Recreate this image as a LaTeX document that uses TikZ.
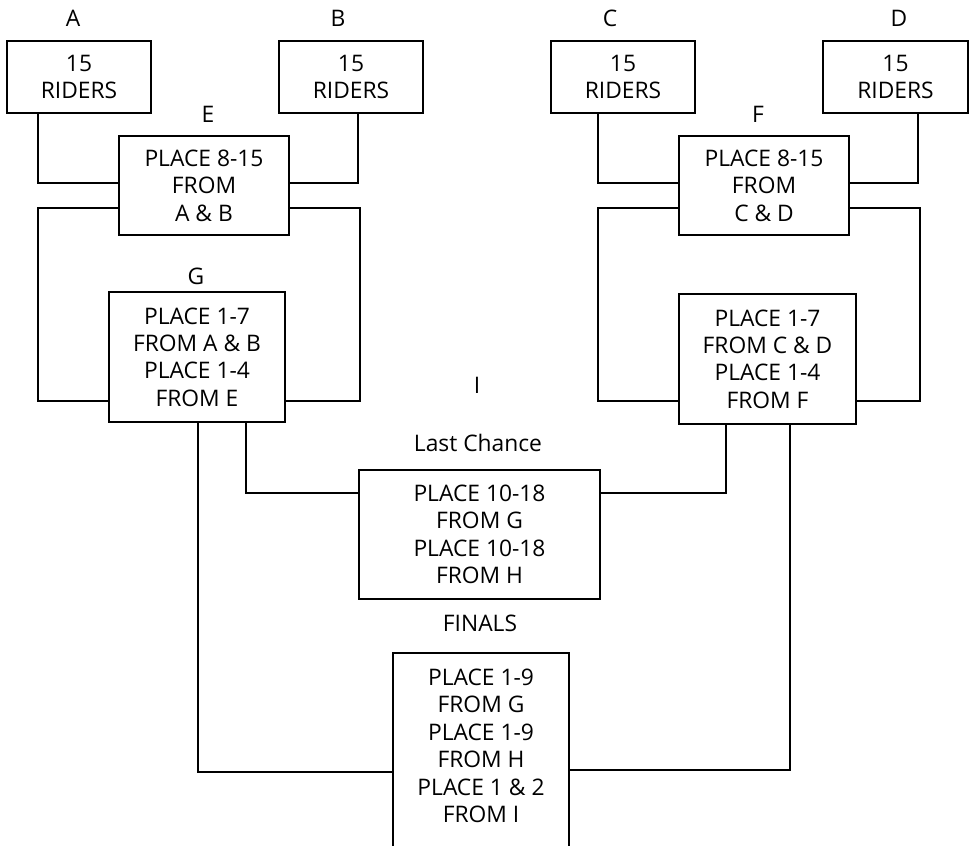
\documentclass[tikz,border=0pt]{standalone}
\usepackage{fontspec}
\setmainfont{Open Sans}
\usetikzlibrary{calc}
\begin{document}
\begin{tikzpicture}[x=1pt,y=-1pt,
  txt/.style={font=\fontsize{22.8}{27.4}\selectfont},
  box/.style={draw,line width=1.8pt,align=center,inner sep=0pt,txt},
  lbl/.style={inner sep=0pt,txt},
  wire/.style={line width=1.8pt}]
\useasboundingbox (0,0) rectangle (972,846);
\clip (0,0) rectangle (972,846);
% top boxes
\node[box,minimum width=144pt,minimum height=72pt] (A) at (79,77) {15\\RIDERS};
\node[box,minimum width=144pt,minimum height=72pt] (B) at (351,77) {15\\RIDERS};
\node[box,minimum width=144pt,minimum height=72pt] (C) at (623,77) {15\\RIDERS};
\node[box,minimum width=145pt,minimum height=72pt] (D) at (895.5,77) {15\\RIDERS};
% second round
\node[box,minimum width=170pt,minimum height=99pt] (E) at (204,185.5) {PLACE 8-15\\FROM\\A \& B};
\node[box,minimum width=170pt,minimum height=99pt] (F) at (764,185.5) {PLACE 8-15\\FROM\\C \& D};
% third round
\node[box,minimum width=176pt,minimum height=130pt] (G) at (197,357) {PLACE 1-7\\FROM A \& B\\PLACE 1-4\\FROM E};
\node[box,minimum width=177pt,minimum height=130pt] (H) at (767.5,359) {PLACE 1-7\\FROM C \& D\\PLACE 1-4\\FROM F};
% last chance
\node[box,minimum width=241pt,minimum height=129pt] (LC) at (479.5,534.5) {PLACE 10-18\\FROM G\\PLACE 10-18\\FROM H};
% finals
\node[box,anchor=north,inner ysep=16pt] (FIN) at (481,652)
  {\parbox[c][215pt][t]{176pt}{\centering PLACE 1-9\\FROM G\\PLACE 1-9\\FROM H\\PLACE 1 \& 2\\FROM I}};
% labels
\node[lbl] (lA) at (73,18) {A};
\node[lbl] (lB) at (338,18) {B};
\node[lbl] (lC) at (610,18) {C};
\node[lbl] (lD) at (899,18) {D};
\node[lbl] (lE) at (208,114) {E};
\node[lbl] (lF) at (758,114) {F};
\node[lbl] (lG) at (196,276) {G};
\node[lbl] (lI) at (477,385) {I};
\node[lbl] (lLC) at (478,443) {Last Chance};
\node[lbl] (lFIN) at (480,623) {FINALS};
% connectors left
\draw[wire] ($(A.south west)+(32,0)$) |- ($(E.west)+(0,-2.5)$);
\draw[wire] ($(B.south west)+(80,0)$) |- ($(E.east)+(0,-2.5)$);
\draw[wire] ($(E.west)+(0,22.5)$) -| ($(G.west)+(-70,44)$) -- ($(G.west)+(0,44)$);
\draw[wire] ($(E.east)+(0,22.5)$) -| ($(G.east)+(74,44)$) -- ($(G.east)+(0,44)$);
% connectors right
\draw[wire] ($(C.south west)+(48,0)$) |- ($(F.west)+(0,-2.5)$);
\draw[wire] ($(D.south west)+(96,0)$) |- ($(F.east)+(0,-2.5)$);
\draw[wire] ($(F.west)+(0,22.5)$) -| ($(H.west)+(-80,42)$) -- ($(H.west)+(0,42)$);
\draw[wire] ($(F.east)+(0,22.5)$) -| ($(H.east)+(63,42)$) -- ($(H.east)+(0,42)$);
% to last chance and finals
\draw[wire] ($(G.south west)+(90,0)$) |- ($(FIN.north west)+(0,120)$);
\draw[wire] ($(G.south west)+(138,0)$) |- ($(LC.west)+(0,-41.5)$);
\draw[wire] ($(H.south west)+(48,0)$) |- ($(LC.east)+(0,-41.5)$);
\draw[wire] ($(H.south west)+(112,0)$) |- ($(FIN.north east)+(0,118)$);
\end{tikzpicture}
\end{document}
